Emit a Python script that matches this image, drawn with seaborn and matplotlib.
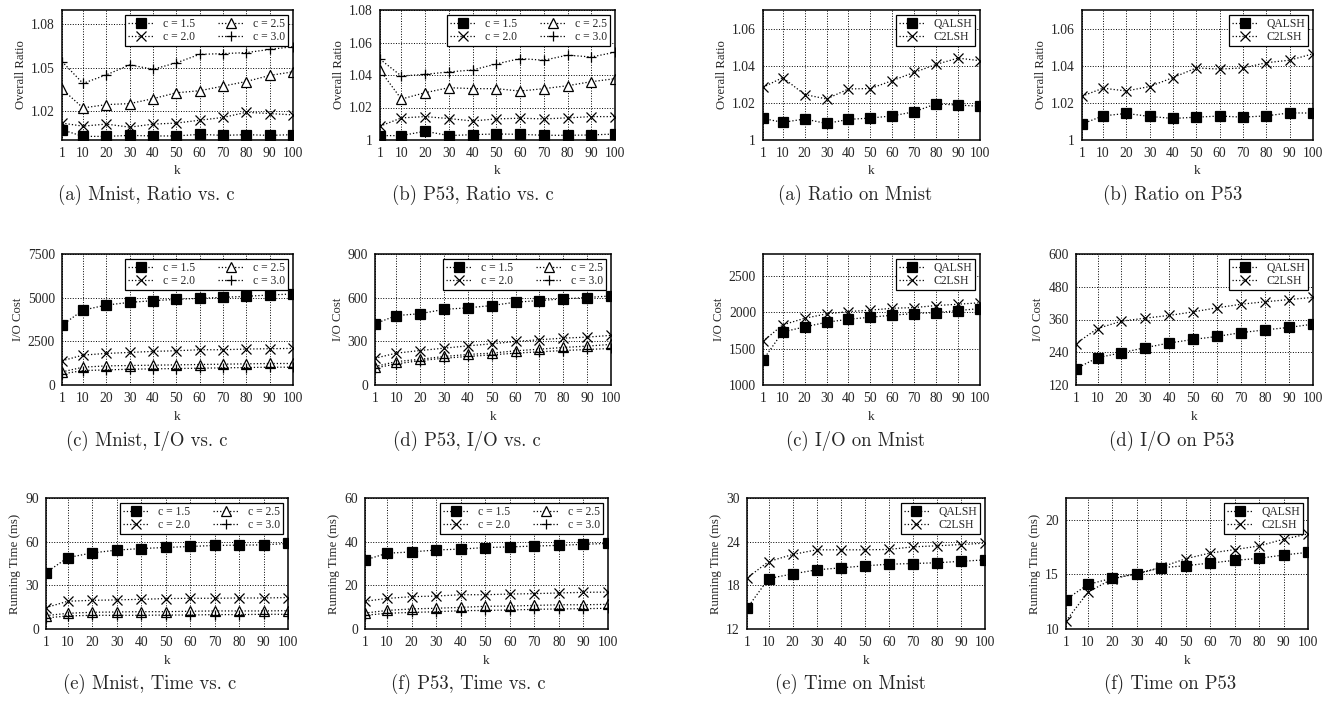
import numpy as np
import pandas as pd
import seaborn as sns
import matplotlib.pyplot as plt

# x values shared by every panel
k = [1, 10, 20, 30, 40, 50, 60, 70, 80, 90, 100]

# ---- left block: effect of c ----
c_labels = ["c = 1.5", "c = 2.0", "c = 2.5", "c = 3.0"]

mnist_ratio_c15 = [1.0071, 1.0025, 1.0025, 1.0032, 1.0028, 1.0028, 1.0039, 1.0032, 1.0037, 1.0032, 1.0037]
mnist_ratio_c20 = [1.0117, 1.0096, 1.0110, 1.0089, 1.0110, 1.0117, 1.0137, 1.0156, 1.0192, 1.0183, 1.0174]
mnist_ratio_c25 = [1.0353, 1.0222, 1.0245, 1.0252, 1.0286, 1.0327, 1.0341, 1.0373, 1.0405, 1.0447, 1.0472]
mnist_ratio_c30 = [1.0543, 1.0392, 1.0451, 1.0520, 1.0490, 1.0534, 1.0593, 1.0598, 1.0605, 1.0627, 1.0646]

p53_ratio_c15 = [1.0027, 1.0027, 1.0054, 1.0027, 1.0033, 1.0037, 1.0035, 1.0029, 1.0029, 1.0031, 1.0037]
p53_ratio_c20 = [1.0085, 1.0136, 1.0144, 1.0132, 1.0117, 1.0130, 1.0134, 1.0130, 1.0136, 1.0144, 1.0144]
p53_ratio_c25 = [1.0429, 1.0252, 1.0291, 1.0322, 1.0316, 1.0316, 1.0301, 1.0316, 1.0334, 1.0359, 1.0377]
p53_ratio_c30 = [1.0497, 1.0394, 1.0404, 1.0419, 1.0431, 1.0468, 1.0501, 1.0491, 1.0522, 1.0511, 1.0540]

mnist_io_c15 = [3423, 4288, 4577, 4731, 4827, 4904, 4962, 5019, 5077, 5154, 5212]
mnist_io_c20 = [1385, 1712, 1808, 1865, 1923, 1962, 2019, 2019, 2058, 2077, 2096]
mnist_io_c25 = [750, 1019, 1096, 1115, 1135, 1154, 1173, 1192, 1212, 1231, 1231]
mnist_io_c30 = [635, 827, 865, 904, 923, 942, 962, 981, 1000, 1019, 1019]

p53_io_c15 = [421, 477, 490, 520, 530, 546, 569, 580, 592, 601, 612]
p53_io_c20 = [184, 219, 237, 253, 269, 283, 299, 311, 322, 329, 341]
p53_io_c25 = [127, 161, 177, 196, 210, 219, 235, 246, 258, 267, 279]
p53_io_c30 = [117, 145, 168, 184, 196, 207, 219, 228, 237, 244, 251]

mnist_time_c15 = [38.8, 49.1, 52.3, 54.2, 55.3, 56.0, 56.7, 57.4, 57.6, 57.8, 58.8]
mnist_time_c20 = [14.7, 19.1, 19.7, 20.0, 20.4, 20.9, 21.1, 21.1, 21.3, 21.3, 21.6]
mnist_time_c25 = [9.2, 10.8, 11.5, 11.7, 11.9, 11.9, 12.2, 12.4, 12.4, 12.4, 12.6]
mnist_time_c30 = [7.6, 9.0, 9.4, 9.4, 9.4, 9.6, 9.6, 9.9, 9.9, 10.1, 10.1]

p53_time_c15 = [31.6, 34.7, 35.3, 36.2, 36.6, 37.3, 37.6, 38.0, 38.3, 38.8, 39.2]
p53_time_c20 = [12.7, 14.0, 14.8, 15.1, 15.7, 15.7, 16.0, 16.2, 16.5, 16.8, 16.9]
p53_time_c25 = [7.3, 8.5, 9.2, 9.5, 9.9, 10.4, 10.5, 10.8, 11.1, 11.1, 11.3]
p53_time_c30 = [6.3, 7.2, 7.6, 7.9, 8.4, 8.5, 8.7, 9.0, 9.2, 9.3, 9.5]

# ---- right block: QALSH vs C2LSH ----
m_labels = ["QALSH", "C2LSH"]

mnist_ratio_qalsh = [1.0116, 1.0095, 1.0113, 1.0089, 1.0111, 1.0118, 1.0130, 1.0152, 1.0195, 1.0188, 1.0182]
mnist_ratio_c2lsh = [1.0284, 1.0336, 1.0245, 1.0221, 1.0275, 1.0277, 1.0320, 1.0364, 1.0407, 1.0441, 1.0427]
p53_ratio_qalsh = [1.0086, 1.0130, 1.0143, 1.0127, 1.0116, 1.0123, 1.0129, 1.0123, 1.0130, 1.0146, 1.0145]
p53_ratio_c2lsh = [1.0236, 1.0279, 1.0264, 1.0288, 1.0336, 1.0388, 1.0382, 1.0388, 1.0416, 1.0430, 1.0464]

mnist_io_qalsh = [1344, 1729, 1798, 1862, 1904, 1931, 1959, 1982, 1995, 2023, 2050]
mnist_io_c2lsh = [1601, 1826, 1917, 1977, 2009, 2028, 2055, 2064, 2092, 2110, 2130]
p53_io_qalsh = [180, 220, 238, 257, 274, 287, 298, 312, 322, 331, 343]
p53_io_c2lsh = [272, 327, 354, 365, 375, 388, 403, 416, 425, 433, 441]

mnist_time_qalsh = [14.85, 18.93, 19.57, 20.13, 20.40, 20.68, 20.90, 21.00, 21.10, 21.30, 21.50]
mnist_time_c2lsh = [19.00, 21.27, 22.24, 22.88, 22.88, 22.88, 22.93, 23.29, 23.43, 23.60, 23.80]
p53_time_qalsh = [12.70, 14.08, 14.66, 15.06, 15.61, 15.80, 16.04, 16.29, 16.47, 16.78, 17.02]
p53_time_c2lsh = [10.74, 13.37, 14.60, 15.06, 15.67, 16.44, 16.96, 17.27, 17.61, 18.22, 18.71]

# captions
captions_left = ["(a) Mnist, Ratio vs. c", "(b) P53, Ratio vs. c",
                 "(c) Mnist, I/O vs. c", "(d) P53, I/O vs. c",
                 "(e) Mnist, Time vs. c", "(f) P53, Time vs. c"]
captions_right = ["(a) Ratio on Mnist", "(b) Ratio on P53",
                  "(c) I/O on Mnist", "(d) I/O on P53",
                  "(e) Time on Mnist", "(f) Time on P53"]

sns.set_style("white")
plt.rcParams["font.family"] = ["Liberation Serif", "DejaVu Serif"]

W, H = 1323, 702
fig = plt.figure(figsize=(W / 100, H / 100), dpi=100)

c_markers = ["s", "x", "^", "+"]
m_markers = ["s", "x"]


def make_ax(left, right, top, bottom):
    return fig.add_axes([left / W, 1 - bottom / H, (right - left) / W, (bottom - top) / H])


def draw(ax, series, labels, markers, ylim, yticks, ylabel, ncol):
    for vals, lab, m in zip(series, labels, markers):
        face = "white" if m == "^" else "black"
        sns.lineplot(x=k, y=vals, ax=ax, color="black", linestyle=":", linewidth=0.9,
                     marker=m, markersize=7 if m == "s" else 7.5,
                     markerfacecolor=face, markeredgecolor="black",
                     markeredgewidth=0.9, label=lab)
    ax.set_xlim(1, 100)
    ax.set_ylim(*ylim)
    ax.set_xticks(k)
    ax.set_xticklabels([str(v) for v in k])
    ax.set_yticks(yticks)
    ax.set_yticklabels([f"{v:g}" for v in yticks])
    ax.grid(True, color="black", linestyle=":", linewidth=0.7)
    ax.tick_params(direction="in", length=3, labelsize=9.8, pad=5)
    for s in ax.spines.values():
        s.set_color("black")
        s.set_linewidth(1.1)
    ax.set_xlabel("k", fontsize=9.5, labelpad=4)
    ax.set_ylabel(ylabel, fontsize=9.2, labelpad=3)
    leg = ax.legend(loc="upper right", ncol=ncol, fontsize=8.4, frameon=True, fancybox=False,
                    edgecolor="black", framealpha=1, borderpad=0.25, labelspacing=0.1,
                    handlelength=2.2, handletextpad=0.8, columnspacing=2.0, borderaxespad=0.4)
    leg.get_frame().set_linewidth(0.9)


def caption(text, cx, cy):
    fig.text(cx / W, 1 - cy / H, text, ha="center", va="center",
             fontfamily="cmr10", fontsize=13.5)


rows = [(10, 140, 195), (254, 385, 441), (498, 629, 684)]
cols_left = [[(62, 293), (380, 615)], [(62, 293), (375, 611)], [(46, 288), (365, 608)]]
cols_right = [[(763, 980), (1082, 1313)], [(763, 980), (1076, 1313)], [(747, 985), (1066, 1308)]]
cap_x_left = [[146, 473], [147, 467], [150, 468]]
cap_x_right = [[855, 1173], [855, 1172], [850, 1170]]

left_specs = [
    [([mnist_ratio_c15, mnist_ratio_c20, mnist_ratio_c25, mnist_ratio_c30], (1.0, 1.09), [1.02, 1.05, 1.08], "Overall Ratio"),
     ([p53_ratio_c15, p53_ratio_c20, p53_ratio_c25, p53_ratio_c30], (1.0, 1.08), [1, 1.02, 1.04, 1.06, 1.08], "Overall Ratio")],
    [([mnist_io_c15, mnist_io_c20, mnist_io_c25, mnist_io_c30], (0, 7500), [0, 2500, 5000, 7500], "I/O Cost"),
     ([p53_io_c15, p53_io_c20, p53_io_c25, p53_io_c30], (0, 900), [0, 300, 600, 900], "I/O Cost")],
    [([mnist_time_c15, mnist_time_c20, mnist_time_c25, mnist_time_c30], (0, 90), [0, 30, 60, 90], "Running Time (ms)"),
     ([p53_time_c15, p53_time_c20, p53_time_c25, p53_time_c30], (0, 60), [0, 20, 40, 60], "Running Time (ms)")],
]
right_specs = [
    [([mnist_ratio_qalsh, mnist_ratio_c2lsh], (1.0, 1.07), [1, 1.02, 1.04, 1.06], "Overall Ratio"),
     ([p53_ratio_qalsh, p53_ratio_c2lsh], (1.0, 1.07), [1, 1.02, 1.04, 1.06], "Overall Ratio")],
    [([mnist_io_qalsh, mnist_io_c2lsh], (1000, 2800), [1000, 1500, 2000, 2500], "I/O Cost"),
     ([p53_io_qalsh, p53_io_c2lsh], (120, 600), [120, 240, 360, 480, 600], "I/O Cost")],
    [([mnist_time_qalsh, mnist_time_c2lsh], (12, 30), [12, 18, 24, 30], "Running Time (ms)"),
     ([p53_time_qalsh, p53_time_c2lsh], (10, 22), [10, 15, 20], "Running Time (ms)")],
]

for r, (top, bottom, cy) in enumerate(rows):
    for j in range(2):
        series, ylim, yticks, ylabel = left_specs[r][j]
        l, rr = cols_left[r][j]
        ax = make_ax(l, rr, top, bottom)
        draw(ax, series, c_labels, c_markers, ylim, yticks, ylabel, 2)
        caption(captions_left[2 * r + j], cap_x_left[r][j], cy)

        series, ylim, yticks, ylabel = right_specs[r][j]
        l, rr = cols_right[r][j]
        ax = make_ax(l, rr, top, bottom)
        draw(ax, series, m_labels, m_markers, ylim, yticks, ylabel, 1)
        caption(captions_right[2 * r + j], cap_x_right[r][j], cy)

fig.savefig("out.png", dpi=100)
